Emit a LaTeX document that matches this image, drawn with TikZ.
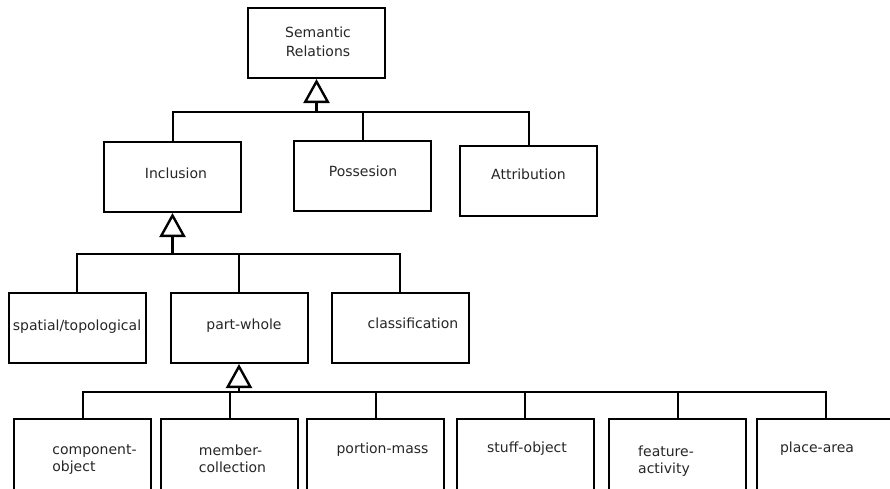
\documentclass[tikz,border=0pt]{standalone}
\usepackage{fontspec}
\setmainfont{DejaVu Sans}
\usetikzlibrary{arrows.meta}
\begin{document}
\begin{tikzpicture}[x=1pt,y=-1pt,
  box/.style={draw, line width=2pt, minimum width=137pt, minimum height=70pt, inner sep=0pt},
  lowbox/.style={box, minimum height=78pt},
  lbl/.style={font=\fontsize{14}{17}\selectfont, align=left, inner sep=0pt, text=black!85},
  conn/.style={line width=2pt},
  gen/.style={line width=2.4pt, -{Triangle[open, length=24pt, width=26pt]}}]
\useasboundingbox (0,0) rectangle (890,488);

% level 1
\node[box, label={[lbl, font=\fontsize{14}{19}\selectfont, align=center, xshift=1.5pt, yshift=1pt]center:Semantic\\Relations}] (sem) at (316.5,43) {};
% level 2
\node[box, label={[lbl, xshift=3.5pt, yshift=4pt]center:Inclusion}] (incl) at (172.5,177) {};
\node[box, label={[lbl, xshift=0.5pt, yshift=4.5pt]center:Possesion}] (poss) at (362.5,175.5) {};
\node[box, label={[lbl, xshift=0pt, yshift=6.5pt]center:Attribution}] (attr) at (528.5,180.5) {};
% level 3
\node[box, label={[lbl, xshift=0pt, yshift=1pt]center:spatial/topological}] (spat) at (77,328) {};
\node[box, label={[lbl, xshift=5pt, yshift=2pt]center:part-whole}] (pw) at (239,328) {};
\node[box, label={[lbl, xshift=13pt, yshift=4.5pt]center:classification}] (cls) at (400,327.5) {};
% level 4 (cut off by the lower edge)
\node[lowbox, label={[lbl, xshift=12pt, yshift=-1.5pt]center:component-\\object}] (comp) at (82.5,458) {};
\node[lowbox, label={[lbl, xshift=3pt, yshift=-0.5pt]center:member-\\collection}] (memb) at (229.5,458) {};
\node[lowbox, label={[lbl, xshift=7pt, yshift=8pt]center:portion-mass}] (port) at (375.5,458) {};
\node[lowbox, label={[lbl, xshift=2pt, yshift=9pt]center:stuff-object}] (stuff) at (525,458) {};
\node[lowbox, label={[lbl, xshift=-11.5pt, yshift=-3pt]center:feature-\\activity}] (feat) at (677.5,458) {};
\node[lowbox, label={[lbl, xshift=-8.5pt, yshift=9pt]center:place-area}] (place) at (825.5,458) {};

% junctions
\path (sem.south) ++(0,33) coordinate (j1);
\path (incl.south) ++(0,41) coordinate (j2);
\path (pw.south) ++(0,28) coordinate (j3);

% connectors level 1
\draw[conn] (incl.north) |- (j1) -| (attr.north);
\draw[conn] (poss.north) -- (poss.north |- j1);
\draw[gen] (j1) -- (sem.south);
% connectors level 2
\draw[conn] (spat.north) |- (j2) -| (cls.north);
\draw[conn] (pw.north) -- (pw.north |- j2);
\draw[gen] (j2) -- (incl.south);
% connectors level 3
\draw[conn] (comp.north) |- (j3) -| (place.north);
\draw[conn] (memb.north) -- (memb.north |- j3);
\draw[conn] (port.north) -- (port.north |- j3);
\draw[conn] (stuff.north) -- (stuff.north |- j3);
\draw[conn] (feat.north) -- (feat.north |- j3);
\draw[gen] (j3) -- (pw.south);
\end{tikzpicture}
\end{document}
